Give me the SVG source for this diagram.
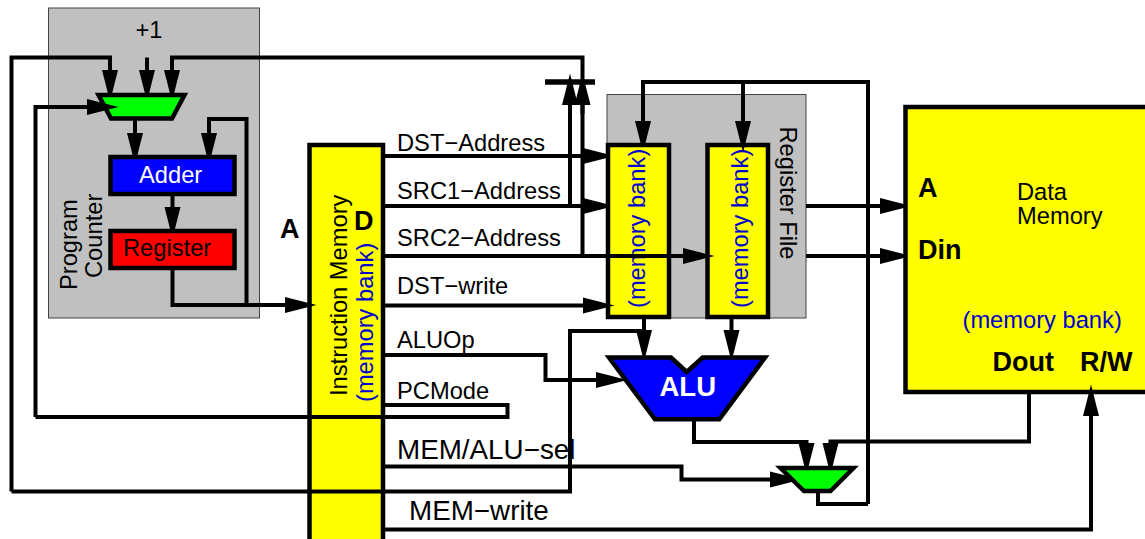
<svg xmlns="http://www.w3.org/2000/svg" width="1145" height="539" viewBox="0 0 1145 539">
<style>
text{font-family:"Liberation Sans",Arial,sans-serif;font-size:23.7px;fill:#000}
.b{font-weight:bold;font-size:27px}
.m{fill:#0000d0}
.w{fill:#fff}
.big{font-size:27.8px}
.box{stroke:#000;stroke-width:4.5;stroke-linejoin:miter}
.grey{fill:#c0c0c0;stroke:#444;stroke-width:1}
.y{fill:#ff0}
.c path{fill:none;stroke:#000;stroke-width:4}
.c .a{marker-end:url(#ah)}
</style>
<defs>
<marker id="ah" markerUnits="userSpaceOnUse" markerWidth="31.500" markerHeight="16" viewBox="0 0 31.500 16" refX="5" refY="8" orient="auto" overflow="visible"><polygon points="0,0 31.500,8 0,16" fill="#000"/></marker>
</defs>
<rect width="1145" height="539" fill="#fff"/>
<g id="program-counter">
<rect class="grey" x="48.500" y="8" width="211" height="310"/>
<text transform="translate(77 290) rotate(-90)">Program</text>
<text transform="translate(101.500 278) rotate(-90)">Counter</text>
<text x="135.500" y="38">+1</text>
</g>
<g id="register-file">
<rect class="grey" x="607" y="94.500" width="199" height="223.500"/>
<text transform="translate(780 126.500) rotate(90)">Register File</text>
</g>
<g id="connectors-back" class="c">
<path class="a" d="M11.500 491.500V57.500H110V75"/>
<path class="a" d="M147 57.500V75"/>
<path class="a" d="M582.500 256V57.500H172V75"/>
<path class="a" d="M135 118V138"/>
<path class="a" d="M246.500 305V119H209V138"/>
<path class="a" d="M172.500 194V212"/>
<path class="a" d="M383 156H588"/>
<path class="a" d="M383 206H588"/>
<path class="a" d="M570 206V100"/>
<path class="a" d="M582.500 114V100"/>
<path d="M545 82H595" style="stroke-width:5.500"/>
<path d="M868 504H818V491"/>
<path class="a" d="M868 504V82H643V126"/>
<path class="a" d="M806 206H885"/>
<path class="a" d="M806 256H885"/>
<path class="a" d="M644 318V335"/>
<path class="a" d="M731.500 318V335"/>
<path class="a" d="M383 355H545.500V380H601"/>
<path class="a" d="M383 466.500H681.500V479.500H775"/>
<path class="a" d="M694 420V442H806.500V448"/>
<path class="a" d="M1029 392V441.500H830.500V448"/>
</g>
<g id="pc-mux"><polygon class="box" fill="#0f0" points="98.500,95 184.500,95 172,118.500 111,118.500"/></g>
<g id="adder"><rect class="box" x="110.500" y="157" width="124" height="37" fill="#00f"/><text class="w" x="139" y="183">Adder</text></g>
<g id="register"><rect class="box" x="110.500" y="231" width="124" height="37" fill="#f00"/><text x="123" y="255.500">Register</text></g>
<g id="instruction-memory">
<rect class="box y" x="309.500" y="145" width="73.500" height="410"/>
<text transform="translate(347 396) rotate(-90)">Instruction Memory</text>
<text class="m" transform="translate(372.500 402) rotate(-90)">(memory bank)</text>
<text class="b" x="280" y="237.500">A</text>
<text class="b" x="354" y="230">D</text>
</g>
<g id="bank-1"><rect class="box y" x="608" y="145" width="61" height="172"/><text class="m" transform="translate(645 308) rotate(-90)">(memory bank)</text></g>
<g id="bank-2"><rect class="box y" x="707.500" y="145" width="60.500" height="172"/><text class="m" transform="translate(748 308) rotate(-90)">(memory bank)</text></g>
<g id="alu"><polygon class="box" fill="#00f" points="609,357.500 671,357.500 686.700,372 702.700,357.500 765,357.500 719.300,419.300 655,419.300"/><text class="b w" style="font-size:27.500px" x="659.500" y="395.500">ALU</text></g>
<g id="alu-mux"><polygon class="box" fill="#0f0" points="780.500,468 853.500,468 830.500,491 804,491"/></g>
<g id="data-memory">
<rect class="box y" x="905.500" y="107" width="260" height="285"/>
<text x="1017" y="200">Data</text>
<text x="1017" y="223.500">Memory</text>
<text class="m" x="962.500" y="328">(memory bank)</text>
<text class="b" x="918" y="197">A</text>
<text class="b" x="918" y="259">Din</text>
<text class="b" x="992.500" y="371">Dout</text>
<text class="b" x="1080" y="371">R/W</text>
</g>
<g id="connectors-front" class="c">
<path class="a" d="M35.500 417V107H92"/>
<path class="a" d="M172.500 268V305H290"/>
<path class="a" d="M383 256H688"/>
<path class="a" d="M383 305.500H588"/>
<path class="a" d="M743 82V126"/>
<path d="M11.500 491.500H570V331H644"/>
<path d="M383 405H507.500V417H35.500"/>
<path class="a" d="M383 529.500H1091V411"/>
<text x="397" y="151">DST−Address</text>
<text x="397" y="198.500">SRC1−Address</text>
<text x="397" y="245.500">SRC2−Address</text>
<text x="397" y="294">DST−write</text>
<text x="397" y="348">ALUOp</text>
<text x="397" y="398.500">PCMode</text>
<text class="big" x="397" y="458.500">MEM/ALU−sel</text>
<text class="big" x="409" y="520">MEM−write</text>
</g>
</svg>
